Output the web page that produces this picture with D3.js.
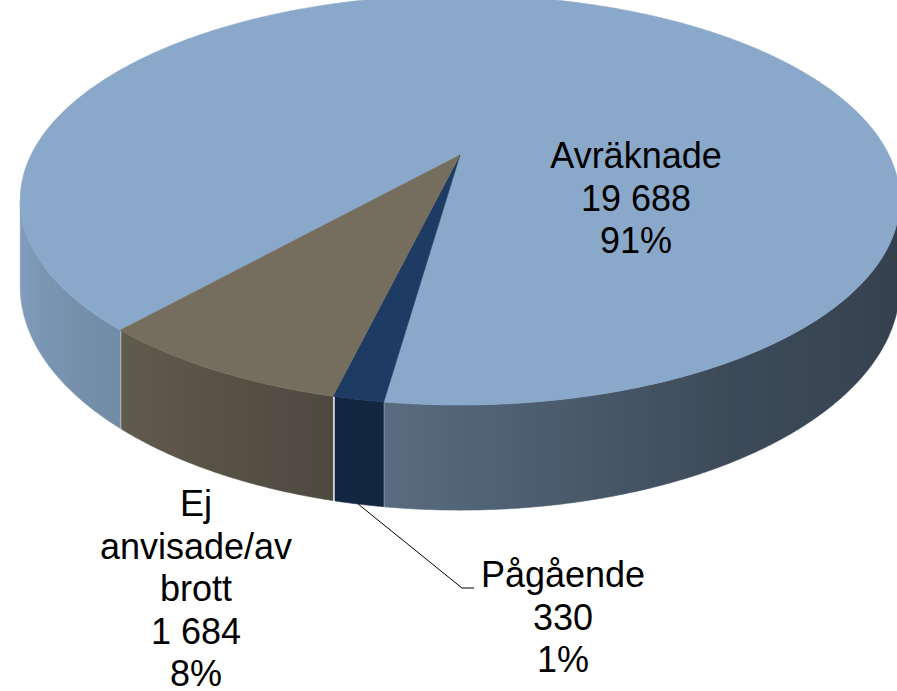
<!DOCTYPE html>
<html>
<head>
<meta charset="utf-8">
<script src="https://cdn.jsdelivr.net/npm/d3@7/dist/d3.min.js"></script>
<style>
  body { margin: 0; background: #fff; }
  text { font-family: "Liberation Sans", Arial, sans-serif; fill: #000; }
</style>
</head>
<body>
<div id="chart"></div>
<script>
// data
var categories = ["Avräknade", "Pågående", "Ej anvisade/avbrott"];
var values = [19688, 330, 1684];
var valueLabels = ["19 688", "330", "1 684"];
var percentLabels = ["91%", "1%", "8%"];
var labelLines = [["Avräknade"], ["Pågående"], ["Ej", "anvisade/av", "brott"]];
var colors = ["#8aa8c9", "#1d3b63", "#756e5e"];

var W = 897, H = 691;

// 3d pie geometry (perspective view)
var cx = 460, cy = 155, Rx = 429, Ry = 195, k = 0.22, depth = 82;
var theta0 = 588.6; // where the first slice starts (deg, ccw from right)

// label layout
var labelPos = [
  {x: 636, y: 168},
  {x: 563, y: 587},
  {x: 196, y: 516}
];
var lineH = 42.5;

function proj(theta, r, drop){
  var a = theta * Math.PI / 180;
  var u = r * Math.cos(a), v = r * Math.sin(a);
  var w = 1 + k * v;
  return [cx + Rx * u / w, cy - Ry * v / w + (drop || 0) / w];
}
var norm = function(t){ return ((t % 360) + 360) % 360; };

// visible side where sin(theta) < -k
var visLo = 180 + Math.asin(k) * 180 / Math.PI,
    visHi = 360 - Math.asin(k) * 180 / Math.PI;

var shade = d3.scaleLinear()
  .domain([180, 200, 230, 262, 300, 340, 360])
  .range([0.97, 0.93, 0.82, 0.64, 0.44, 0.38, 0.37])
  .clamp(true);

var pie = d3.pie().sort(null).value(function(d){ return d; });
var arcs = pie(values).map(function(p, i){
  var a0 = p.startAngle * 180 / Math.PI, a1 = p.endAngle * 180 / Math.PI;
  return {i: i, t0: theta0 - a0, t1: theta0 - a1, color: colors[i]};
});

var svg = d3.select("#chart").append("svg")
  .attr("width", W).attr("height", H);
svg.append("rect").attr("width", W).attr("height", H).attr("fill", "#fff");
var defs = svg.append("defs");

var line = d3.line();

// side walls: split each slice into visible runs, one path + gradient per run
var sides = svg.append("g").attr("class", "sides");
var runId = 0;
arcs.forEach(function(s){
  var step = 0.25, runs = [], cur = null;
  for(var t = s.t0; t >= s.t1 - 1e-6; t -= step){
    var tt = Math.max(t, s.t1);
    var m = norm(tt);
    if(m >= visLo && m <= visHi){
      if(!cur){ cur = []; runs.push(cur); }
      cur.push(tt);
    } else cur = null;
  }
  runs.forEach(function(r){
    if(r.length < 2) return;
    var topPts = r.map(function(t){ return proj(t, 1, 0); });
    var botPts = r.map(function(t){ return proj(t, 1, depth); }).reverse();
    var xs = topPts.map(function(p){ return p[0]; });
    var x0 = d3.min(xs), x1 = d3.max(xs);
    var id = "side-grad" + (runId++);
    var c = d3.rgb(s.color);
    var stops = r.filter(function(d, j){ return j % 4 === 0 || j === r.length - 1; }).map(function(t){
      var f = shade(norm(t)), px = proj(t, 1, 0)[0];
      return {offset: (x1 > x0 ? (px - x0) / (x1 - x0) : 0), color: d3.rgb(c.r * f, c.g * f, c.b * f).formatHex()};
    }).sort(function(a, b){ return a.offset - b.offset; });
    defs.append("linearGradient")
      .attr("id", id)
      .attr("gradientUnits", "userSpaceOnUse")
      .attr("x1", x0).attr("y1", 0)
      .attr("x2", x1).attr("y2", 0)
      .selectAll("stop")
      .data(stops)
      .enter().append("stop")
      .attr("offset", function(d){ return d.offset; })
      .attr("stop-color", function(d){ return d.color; });
    sides.append("path")
      .attr("d", line(topPts.concat(botPts)) + "Z")
      .attr("fill", "url(#" + id + ")")
      .attr("stroke", "url(#" + id + ")")
      .attr("stroke-width", 0.6);
  });
});

// top faces
var tops = svg.append("g").attr("class", "tops");
arcs.forEach(function(s){
  var pts = [proj(0, 0, 0)];
  var n = Math.max(2, Math.ceil((s.t0 - s.t1) / 0.5));
  for(var j = 0; j <= n; j++){
    pts.push(proj(s.t0 - (s.t0 - s.t1) * j / n, 1, 0));
  }
  tops.append("path")
    .attr("d", line(pts) + "Z")
    .attr("fill", s.color)
    .attr("stroke", s.color)
    .attr("stroke-width", 0.6)
    .attr("stroke-linejoin", "round");
});

// leader line for the small slice
var small = arcs[1];
var p0 = proj((small.t0 + small.t1) / 2, 1, depth);
svg.append("path")
  .attr("d", line([p0, [labelPos[1].x - 101, labelPos[1].y + 1], [labelPos[1].x - 89, labelPos[1].y + 1]]))
  .attr("fill", "none")
  .attr("stroke", "#000")
  .attr("stroke-width", 1);

// labels
var labels = svg.append("g").attr("class", "labels");
arcs.forEach(function(s){
  var i = s.i;
  var lines = labelLines[i].concat([valueLabels[i], percentLabels[i]]);
  var t = labels.append("text")
    .attr("text-anchor", "middle")
    .attr("font-size", 36);
  lines.forEach(function(l, j){
    t.append("tspan")
      .attr("x", labelPos[i].x)
      .attr("y", labelPos[i].y + j * lineH)
      .text(l);
  });
});
</script>
</body>
</html>
